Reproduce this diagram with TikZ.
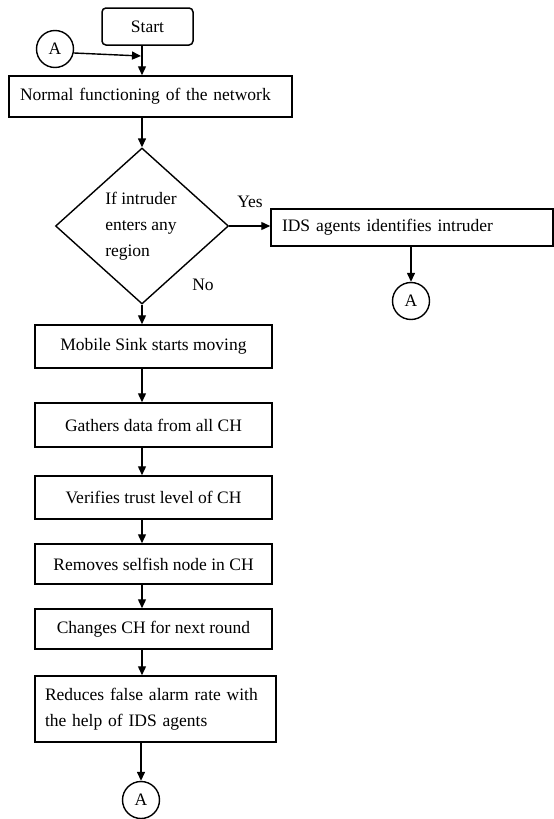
\documentclass[tikz,border=0pt]{standalone}
\usepackage{fontspec}
\setmainfont{Liberation Serif}
\usetikzlibrary{shapes.geometric,arrows.meta}
\begin{document}
\begin{tikzpicture}[x=1pt,y=-1pt,
  every node/.style={font=\fontsize{17.5}{26}\selectfont},
  box/.style={draw,line width=1.5pt,rectangle,inner sep=0pt,align=center},
  lbox/.style={draw,line width=1.5pt,rectangle,inner ysep=0pt,inner xsep=11pt,align=left},
  conn/.style={draw,circle,line width=1.4pt,minimum size=37pt,inner sep=0pt},
  arr/.style={line width=1.4pt,-{Triangle[length=9pt,width=8pt]}},
  lbl/.style={inner sep=0pt}
]
\useasboundingbox (0,0) rectangle (554,819);
\node[box,rounded corners=4pt,minimum width=91pt,minimum height=37pt] (start) at (147.5,26.5) {Start};
\node[conn] (a1) at (55,49) {A};
\node[lbox,text width=261pt,minimum height=41pt] (normal) at (150.5,96.5) {Normal functioning of the network};
\node[draw,diamond,line width=1.4pt,minimum width=173pt,minimum height=156pt,inner sep=0pt] (dec) at (142,226) {};
\node[lbl,align=left] (dtext) at (141,226) {If intruder\\enters any\\region};
\node[lbl] (yes) at (250,202) {Yes};
\node[lbl] (no) at (203,285) {No};
\node[lbox,text width=260pt,minimum height=37pt] (ids) at (412,227.5) {IDS agents identifies intruder};
\node[conn] (a2) at (411,301) {A};
\node[box,minimum width=237pt,minimum height=43pt] (mob) at (153.5,346.5) {Mobile Sink starts moving};
\node[box,minimum width=237pt,minimum height=44pt] (gat) at (153.5,425) {Gathers data from all CH};
\node[box,minimum width=237pt,minimum height=43pt] (ver) at (153.5,497.5) {Verifies trust level of CH};
\node[box,minimum width=237pt,minimum height=40pt] (rem) at (153.5,564) {Removes selfish node in CH};
\node[box,minimum width=237pt,minimum height=40pt] (chg) at (153.5,629) {Changes CH for next round};
\node[lbox,inner xsep=10pt,text width=221pt,minimum height=66pt] (red) at (155.5,709) {Reduces false alarm rate with\\the help of IDS agents};
\node[conn] (a3) at (141,800) {A};
\coordinate (j) at (141,56);

\draw[arr] (start.south -| dec.north) -- (normal.north -| dec.north);
\draw[arr] (a1.-12) -- (j);
\draw[arr] (normal.south -| dec.north) -- (dec.north);
\draw[arr] (dec.east) -- (dec.east -| ids.west);
\draw[arr] (ids.south -| a2.north) -- (a2.north);
\draw[arr] (dec.south) -- (dec.south |- mob.north);
\draw[arr] (mob.south -| dec.south) -- (gat.north -| dec.south);
\draw[arr] (gat.south -| dec.south) -- (ver.north -| dec.south);
\draw[arr] (ver.south -| dec.south) -- (rem.north -| dec.south);
\draw[arr] (rem.south -| dec.south) -- (chg.north -| dec.south);
\draw[arr] (chg.south -| dec.south) -- (red.north -| dec.south);
\draw[arr] (red.south -| a3.north) -- (a3.north);
\end{tikzpicture}
\end{document}
